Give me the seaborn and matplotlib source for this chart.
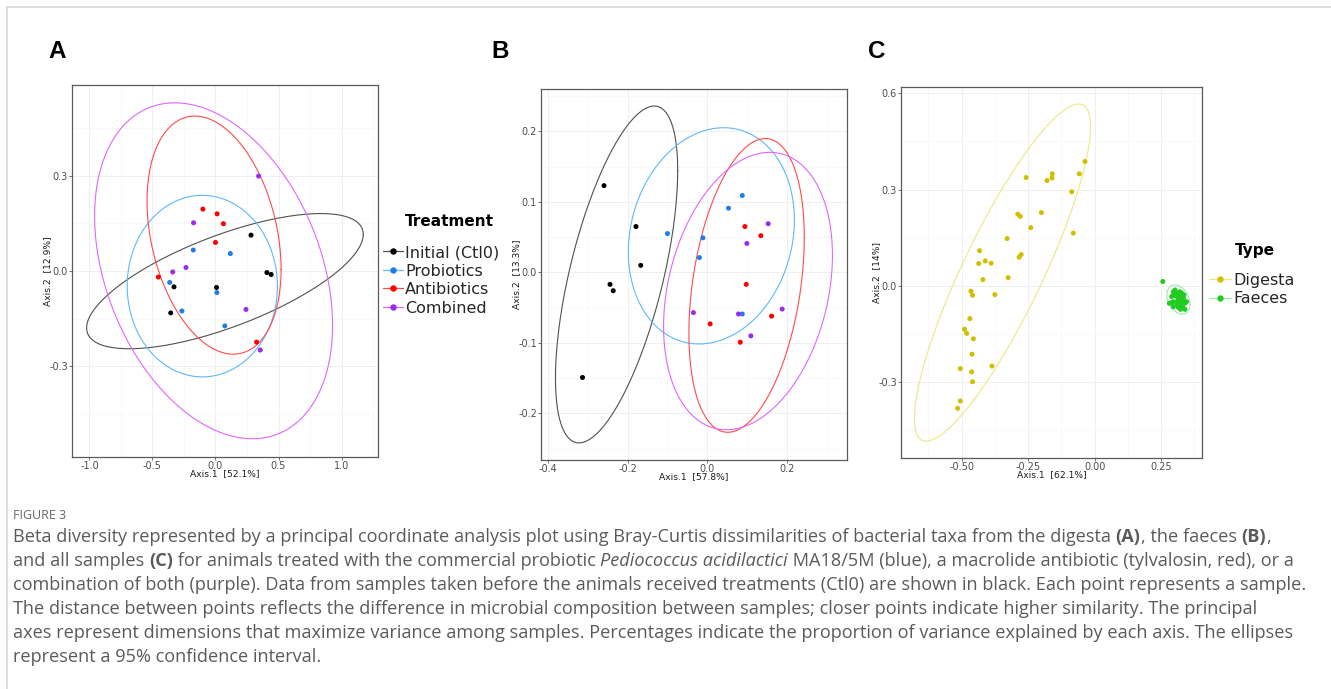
import numpy as np
import pandas as pd
import matplotlib
matplotlib.use("Agg")
import matplotlib.pyplot as plt
from matplotlib.lines import Line2D
from matplotlib.ticker import FixedLocator, FormatStrFormatter, AutoMinorLocator
import seaborn as sns

# ---------------------------------------------------------------- data
treatments = ["Initial (Ctl0)", "Probiotics", "Antibiotics", "Combined"]
sample_types = ["Digesta", "Faeces"]

# Panel A: digesta PCoA coordinates (Axis.1, Axis.2) per treatment
a_ctl_x = [0.282, 0.408, 0.442, 0.008, -0.329, -0.355]
a_ctl_y = [0.113, -0.005, -0.011, -0.052, -0.050, -0.132]
a_pro_x = [-0.176, 0.118, -0.363, 0.011, -0.266, 0.074]
a_pro_y = [0.066, 0.055, -0.036, -0.068, -0.126, -0.173]
a_abx_x = [-0.100, 0.013, 0.063, 0.000, -0.453, 0.326]
a_abx_y = [0.195, 0.180, 0.149, 0.090, -0.019, -0.224]
a_com_x = [0.342, -0.174, -0.234, -0.339, 0.242, 0.355]
a_com_y = [0.299, 0.152, 0.011, -0.003, -0.121, -0.249]

# Panel B: faeces PCoA coordinates per treatment
b_ctl_x = [-0.259, -0.179, -0.167, -0.244, -0.236, -0.313]
b_ctl_y = [0.123, 0.065, 0.010, -0.017, -0.026, -0.149]
b_pro_x = [0.0875, 0.053, -0.100, -0.011, -0.020, 0.0875]
b_pro_y = [0.109, 0.091, 0.055, 0.049, 0.021, -0.059]
b_abx_x = [0.094, 0.134, 0.0975, 0.161, 0.007, 0.0825]
b_abx_y = [0.065, 0.052, -0.017, -0.062, -0.073, -0.099]
b_com_x = [0.1525, 0.099, -0.035, 0.078, 0.1875, 0.109]
b_com_y = [0.069, 0.041, -0.057, -0.059, -0.052, -0.090]

# Panel C: all samples, by sample type
c_dig_x = [-0.036, -0.0575, -0.086, -0.080, -0.159, -0.160, -0.179, -0.2575,
           -0.200, -0.289, -0.279, -0.240, -0.329, -0.276, -0.284, -0.4325,
           -0.411, -0.436, -0.389, -0.420, -0.325, -0.465, -0.459, -0.375,
           -0.469, -0.489, -0.481, -0.456, -0.461, -0.505, -0.386, -0.4625,
           -0.459, -0.505, -0.515]
c_dig_y = [0.3875, 0.349, 0.293, 0.164, 0.349, 0.336, 0.328, 0.3375,
           0.228, 0.223, 0.216, 0.181, 0.147, 0.097, 0.0885, 0.109,
           0.077, 0.069, 0.070, 0.019, 0.025, -0.017, -0.030, -0.028,
           -0.103, -0.136, -0.149, -0.166, -0.214, -0.259, -0.251, -0.269,
           -0.300, -0.360, -0.383]
c_fae_x = [0.2565, 0.296, 0.3026, 0.309, 0.315, 0.321, 0.328, 0.323, 0.334,
           0.321, 0.315, 0.306, 0.298, 0.290, 0.281, 0.290, 0.296, 0.309,
           0.321, 0.334, 0.340, 0.346, 0.331, 0.323, 0.340, 0.296, 0.309,
           0.328, 0.315, 0.336]
c_fae_y = [0.013, -0.019, -0.0134, -0.0219, -0.024, -0.019, -0.024, -0.034,
           -0.040, -0.045, -0.040, -0.032, -0.029, -0.034, -0.055, -0.053,
           -0.050, -0.050, -0.055, -0.050, -0.055, -0.050, -0.066, -0.074,
           -0.074, -0.066, -0.060, -0.060, -0.068, -0.029]

axis_labels_a = ("Axis.1  [52.1%]", "Axis.2  [12.9%]")
axis_labels_b = ("Axis.1  [57.8%]", "Axis.2  [13.3%]")
axis_labels_c = ("Axis.1  [62.1%]", "Axis.2  [14%]")

caption_head = "FIGURE 3"
caption_lines = [
    [("Beta diversity represented by a principal coordinate analysis plot using Bray-Curtis dissimilarities of bacterial taxa from the digesta ", "normal", "normal"),
     ("(A)", "bold", "normal"), (", the faeces ", "normal", "normal"), ("(B)", "bold", "normal"), (",", "normal", "normal")],
    [("and all samples ", "normal", "normal"), ("(C)", "bold", "normal"),
     (" for animals treated with the commercial probiotic ", "normal", "normal"),
     ("Pediococcus acidilactici", "normal", "italic"),
     (" MA18/5M (blue), a macrolide antibiotic (tylvalosin, red), or a", "normal", "normal")],
    [("combination of both (purple). Data from samples taken before the animals received treatments (Ctl0) are shown in black. Each point represents a sample.", "normal", "normal")],
    [("The distance between points reflects the difference in microbial composition between samples; closer points indicate higher similarity. The principal", "normal", "normal")],
    [("axes represent dimensions that maximize variance among samples. Percentages indicate the proportion of variance explained by each axis. The ellipses", "normal", "normal")],
    [("represent a 95% confidence interval.", "normal", "normal")],
]

# ---------------------------------------------------------------- styles
point_colors = {"Initial (Ctl0)": "#000000", "Probiotics": "#1C7FEA",
                "Antibiotics": "#FF0000", "Combined": "#9A2BF0"}
ellipse_colors = {"Initial (Ctl0)": "#505050", "Probiotics": "#5DB8FF",
                  "Antibiotics": "#FF4A4A", "Combined": "#E066FF"}
type_point_colors = {"Digesta": "#D2BE00", "Faeces": "#1FCC1F"}
type_ellipse_colors = {"Digesta": "#EEE784", "Faeces": "#9BE8B0"}

W, H = 1331, 689
sns.set_theme(style="white")
plt.rcParams["font.family"] = ["DejaVu Sans"]
plt.rcParams["axes.unicode_minus"] = False


def t_ellipse(x, y, level=0.95, segments=240):
    """Multivariate-t 95% ellipse (robust cov.trob estimate, as in stat_ellipse)."""
    xy = np.column_stack([x, y]).astype(float)
    n, p = xy.shape
    nu = 5
    loc = xy.mean(axis=0)
    w = np.ones(n)
    for _ in range(25):
        w0 = w
        X = xy - loc
        _, d, vt = np.linalg.svd(np.sqrt(w / w.sum())[:, None] * X, full_matrices=False)
        wX = X @ vt.T @ np.diag(1.0 / d)
        Q = (wX ** 2).sum(axis=1)
        w = (nu + p) / (nu + Q)
        loc = (w[:, None] * xy).sum(axis=0) / w.sum()
        if np.all(np.abs(w - w0) < 0.01):
            break
    sw = np.sqrt(w)[:, None] * X
    cov = sw.T @ sw / n
    dfd = n - 1
    fq = dfd / 2.0 * ((1 - level) ** (-2.0 / dfd) - 1)
    radius = np.sqrt(2 * fq)
    U = np.linalg.cholesky(cov).T
    ang = np.linspace(0, 2 * np.pi, segments + 1)
    circ = np.column_stack([np.cos(ang), np.sin(ang)])
    e = loc + radius * circ @ U
    return e[:, 0], e[:, 1]


def style_axes(ax, xlim, ylim, xticks, yticks, xfmt, yfmt, labels):
    ax.set_xlim(*xlim)
    ax.set_ylim(*ylim)
    ax.xaxis.set_major_locator(FixedLocator(xticks))
    ax.yaxis.set_major_locator(FixedLocator(yticks))
    ax.xaxis.set_major_formatter(FormatStrFormatter(xfmt))
    ax.yaxis.set_major_formatter(FormatStrFormatter(yfmt))
    ax.xaxis.set_minor_locator(AutoMinorLocator(2))
    ax.yaxis.set_minor_locator(AutoMinorLocator(2))
    ax.set_axisbelow(True)
    ax.grid(True, which="major", color="#EDEDED", lw=0.6)
    ax.grid(True, which="minor", color="#F6F6F6", lw=0.4)
    for s in ax.spines.values():
        s.set_color("#5A5A5A")
        s.set_linewidth(0.9)
    ax.tick_params(which="major", length=2.2, width=0.6, color="#5A5A5A",
                   labelsize=7, labelcolor="#4D4D4D", pad=0.6,
                   bottom=True, left=True)
    ax.tick_params(which="minor", length=0)
    ax.set_xlabel(labels[0], fontsize=6.6, color="#1A1A1A", labelpad=-1.0)
    ax.set_ylabel(labels[1], fontsize=6.6, color="#1A1A1A", labelpad=-2.3)


def px_axes(left, right, top, bottom):
    return fig.add_axes([left / W, 1 - bottom / H, (right - left) / W, (bottom - top) / H])


fig = plt.figure(figsize=(W / 100, H / 100), dpi=100, facecolor="white")

# page frame lines
fig.add_artist(Line2D([7 / W, 1], [1 - 7 / H, 1 - 7 / H], transform=fig.transFigure,
                      color="#D4D4D4", lw=1.1))
fig.add_artist(Line2D([7 / W, 7 / W], [0, 1 - 7 / H], transform=fig.transFigure,
                      color="#D4D4D4", lw=1.1))


def treatment_panel(ax, xs, ys):
    rows = []
    for name, x, y in zip(treatments, xs, ys):
        rows.append(pd.DataFrame({"Axis.1": x, "Axis.2": y, "Treatment": name}))
    df = pd.concat(rows, ignore_index=True)
    for name in treatments:
        sub = df[df["Treatment"] == name]
        ex, ey = t_ellipse(sub["Axis.1"], sub["Axis.2"])
        ax.plot(ex, ey, color=ellipse_colors[name], lw=0.8, zorder=2)
    sns.scatterplot(data=df, x="Axis.1", y="Axis.2", hue="Treatment",
                    hue_order=treatments, palette=point_colors, s=13,
                    linewidth=0, legend=False, ax=ax, zorder=3)


# ---- Panel A
axA = px_axes(72, 378, 85, 457)
treatment_panel(axA, [a_ctl_x, a_pro_x, a_abx_x, a_com_x],
                [a_ctl_y, a_pro_y, a_abx_y, a_com_y])
style_axes(axA, (-1.138, 1.289), (-0.586, 0.586), [-1.0, -0.5, 0.0, 0.5, 1.0],
           [-0.3, 0.0, 0.3], "%.1f", "%.1f", axis_labels_a)

# ---- Panel B
axB = px_axes(541, 847, 89, 460)
treatment_panel(axB, [b_ctl_x, b_pro_x, b_abx_x, b_com_x],
                [b_ctl_y, b_pro_y, b_abx_y, b_com_y])
style_axes(axB, (-0.417, 0.350), (-0.266, 0.260), [-0.4, -0.2, 0.0, 0.2],
           [-0.2, -0.1, 0.0, 0.1, 0.2], "%.1f", "%.1f", axis_labels_b)

# ---- Panel C
axC = px_axes(901, 1202, 87, 458)
dfC = pd.concat([pd.DataFrame({"Axis.1": c_dig_x, "Axis.2": c_dig_y, "Type": "Digesta"}),
                 pd.DataFrame({"Axis.1": c_fae_x, "Axis.2": c_fae_y, "Type": "Faeces"})],
                ignore_index=True)
for name in sample_types:
    sub = dfC[dfC["Type"] == name]
    ex, ey = t_ellipse(sub["Axis.1"], sub["Axis.2"])
    axC.plot(ex, ey, color=type_ellipse_colors[name], lw=0.8, zorder=2)
sns.scatterplot(data=dfC, x="Axis.1", y="Axis.2", hue="Type", hue_order=sample_types,
                palette=type_point_colors, s=13, linewidth=0, legend=False, ax=axC, zorder=3)
style_axes(axC, (-0.728, 0.404), (-0.538, 0.620), [-0.50, -0.25, 0.00, 0.25],
           [-0.3, 0.0, 0.3, 0.6], "%.2f", "%.1f", axis_labels_c)

# ---- panel letters
for letter, xp in (("A", 57), ("B", 500), ("C", 877)):
    fig.text(xp / W, 1 - 52 / H, letter, ha="center", va="center", fontsize=17.5,
             fontweight="bold", family="Liberation Sans", color="black")


# ---- legends
def key(line_color, dot_color):
    return Line2D([], [], color=line_color, lw=0.9, marker="o", markersize=3.6,
                  markerfacecolor=dot_color, markeredgecolor=dot_color)


legA = fig.legend([key(ellipse_colors[t], point_colors[t]) for t in treatments], treatments,
                  loc="upper left", bbox_to_anchor=(383 / W, 1 - 245 / H), frameon=False,
                  fontsize=11.5, handlelength=1.25, handletextpad=0.15, borderpad=0,
                  borderaxespad=0, labelspacing=0.22)
fig.text(405 / W, 1 - 222 / H, "Treatment", ha="left", va="center", fontsize=11,
         fontweight="bold", color="black")

legC = fig.legend([key(type_ellipse_colors[t], type_point_colors[t]) for t in sample_types],
                  sample_types, loc="upper left", bbox_to_anchor=(1209 / W, 1 - 273 / H),
                  frameon=False, fontsize=11.5, handlelength=1.35, handletextpad=0.2,
                  borderpad=0, borderaxespad=0, labelspacing=0.2)
fig.text(1235 / W, 1 - 250 / H, "Type", ha="left", va="center", fontsize=11,
         fontweight="bold", color="black")

# ---- caption
renderer = fig.canvas.get_renderer()
cap_family = "Open Sans"
cap_color = "#5A5A5A"


def text_width(s, size, weight="normal", style="normal"):
    t = fig.text(0, 0, "|" + s + "|", fontsize=size, family=cap_family,
                 fontweight=weight, fontstyle=style)
    w_full = t.get_window_extent(renderer).width
    t.set_text("||")
    w_bars = t.get_window_extent(renderer).width
    t.remove()
    return w_full - w_bars


base = 11.0
w3 = text_width(caption_lines[2][0][0], base)
cap_size = base * 1297.0 / w3

fig.text(13 / W, 1 - 519 / H, caption_head, ha="left", va="baseline", fontsize=9,
         family=cap_family, color="#666666")
for i, runs in enumerate(caption_lines):
    yb = 542 + 24 * i
    x = 13.0
    for s, weight, style in runs:
        fig.text(x / W, 1 - yb / H, s, ha="left", va="baseline", fontsize=cap_size,
                 family=cap_family, fontweight=weight, fontstyle=style, color=cap_color)
        x += text_width(s, cap_size, weight, style)

fig.savefig("out.png", dpi=100, facecolor="white")
